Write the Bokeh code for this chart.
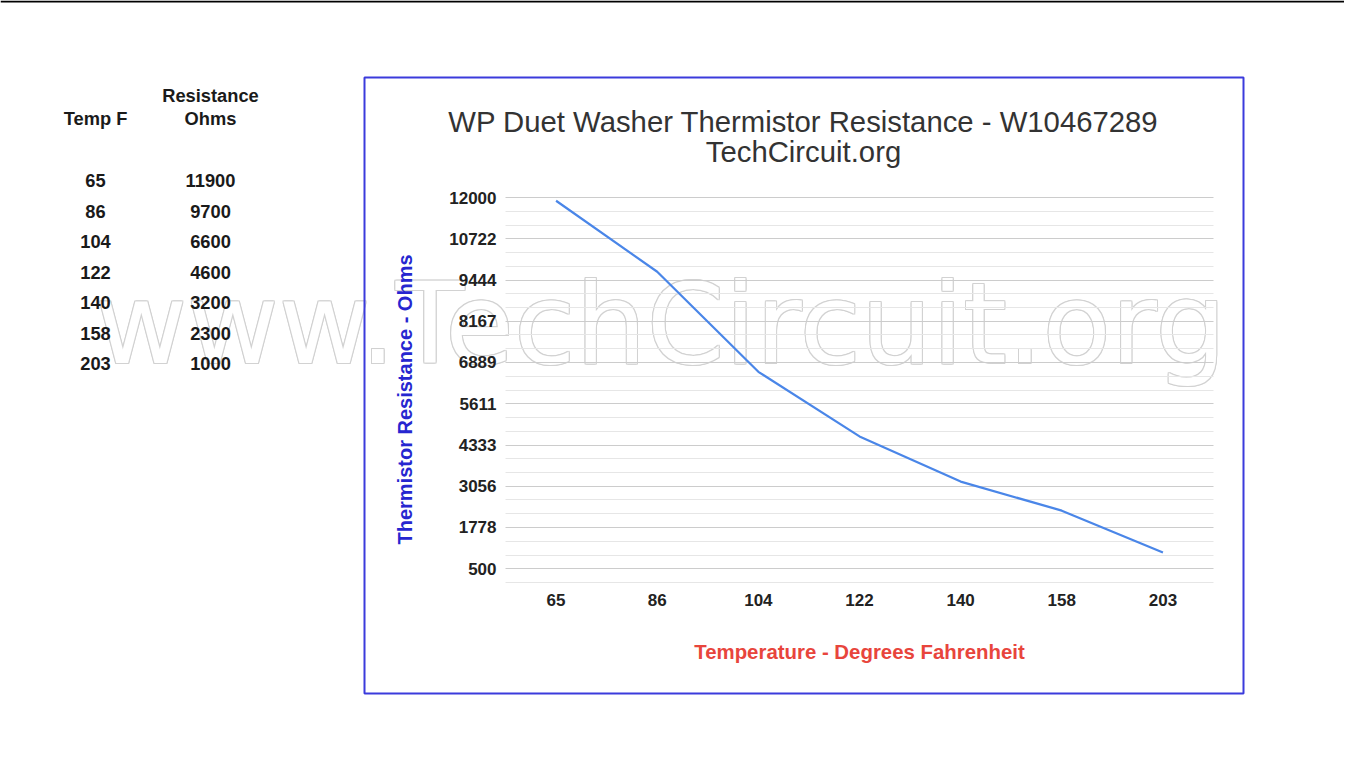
import numpy as np
from bokeh.plotting import figure
from bokeh.models import (FixedTicker, Range1d, ColumnDataSource, LinearAxis, Grid)
from bokeh.core.properties import value
from bokeh.embed import file_html
from bokeh.resources import INLINE

# ---------------- data ----------------
temps_f = [65, 86, 104, 122, 140, 158, 203]
resistance_ohms = [11900, 9700, 6600, 4600, 3200, 2300, 1000]
y_tick_values = [500, 1778, 3056, 4333, 5611, 6889, 8167, 9444, 10722, 12000]
title_lines = ["WP Duet Washer Thermistor Resistance - W10467289", "TechCircuit.org"]
table_header_temp = "Temp F"
table_header_res = ["Resistance", "Ohms"]
x_axis_title = "Temperature - Degrees Fahrenheit"
y_axis_title = "Thermistor Resistance - Ohms"
watermark = "www.TechCircuit.org"

# ---------------- layout (page pixels) ----------------
W, H = 1344, 752
PL, PR, PT, PB = 505, 1213, 197, 582      # plot area edges
FONT = "Liberation Sans"

n = len(temps_f)
cat_idx = list(range(n))
px_per_cat = (PR - PL) / n
x_lo = -0.5 - PL / px_per_cat
x_hi = -0.5 + (W - PL) / px_per_cat

step = (y_tick_values[-1] - y_tick_values[0]) / (len(y_tick_values) - 1)
y_bottom = y_tick_values[0] - step / 3
y_top = y_tick_values[-1]
k = (PB - PT) / (y_top - y_bottom)
y_hi = y_top + PT / k
y_lo = y_bottom - (H - PB) / k

minor = [y_bottom]
for a in y_tick_values[:-1]:
    minor += [a + step / 3, a + 2 * step / 3]

p = figure(width=W, height=H, output_backend="svg", toolbar_location=None,
           x_range=Range1d(x_lo, x_hi), y_range=Range1d(y_lo, y_hi),
           x_axis_type=None, y_axis_type=None, min_border=0)
p.outline_line_color = None
p.background_fill_color = "white"
p.border_fill_color = "white"
p.extra_x_ranges = {"px": Range1d(0, W)}
p.extra_y_ranges = {"py": Range1d(H, 0)}


def txt(texts, xs, ys, size, color, style="normal", align="center", baseline="middle",
        angle=0.0, font=FONT, alpha=1.0, level="glyph"):
    src = ColumnDataSource(dict(x=xs, y=ys, text=texts))
    r = p.text("x", "y", "text", source=src, x_range_name="px", y_range_name="py",
               text_font=value(font), text_font_size=value(f"{size}px"),
               text_font_style=style, text_color=color, text_align=align,
               text_baseline=baseline, angle=angle, text_alpha=alpha)
    r.level = level
    return r


# watermark (outlined look), drawn beneath everything
wm_size, wm_x, wm_y = 112, 95, 323
offs = [(-1, -1), (-1, 0), (-1, 1), (0, -1), (0, 1), (1, -1), (1, 0), (1, 1)]
txt([watermark] * len(offs), [wm_x + dx for dx, _ in offs], [wm_y + dy for _, dy in offs],
    wm_size, "#d2d2d2", align="left", baseline="alphabetic", font="DejaVu Sans", level="image")
txt([watermark], [wm_x], [wm_y], wm_size, "white", align="left", baseline="alphabetic",
    font="DejaVu Sans", level="image")

# screenshot top border line and chart box border
p.segment(x0=[0], y0=[1], x1=[W], y1=[1], x_range_name="px", y_range_name="py",
          line_color="black", line_width=2)
p.quad(left=[364], right=[1243], top=[77], bottom=[693], x_range_name="px",
       y_range_name="py", fill_alpha=0, line_color="#3b3bdc", line_width=2)

# grid
yticker = FixedTicker(ticks=y_tick_values, minor_ticks=minor)
grid_kw = dict(dimension=1, ticker=yticker, grid_line_color="#cccccc",
               minor_grid_line_color="#e6e6e6", level="underlay")
if "cross_bounds" in Grid.properties():
    p.add_layout(Grid(cross_bounds=(-0.5, n - 0.5), **grid_kw))
else:
    p.segment(x0=[-0.5] * len(y_tick_values), y0=y_tick_values, x1=[n - 0.5] * len(y_tick_values),
              y1=y_tick_values, line_color="#cccccc")
    p.segment(x0=[-0.5] * len(minor), y0=minor, x1=[n - 0.5] * len(minor), y1=minor,
              line_color="#e6e6e6")

# data line
src = ColumnDataSource(dict(x=cat_idx, y=resistance_ohms))
p.line("x", "y", source=src, line_color="#4a86e8", line_width=2.2)

# axes
yaxis = LinearAxis(ticker=yticker, fixed_location=-0.5,
                   major_label_overrides={v: str(v) for v in y_tick_values})
xaxis = LinearAxis(ticker=FixedTicker(ticks=cat_idx), fixed_location=y_bottom,
                   major_label_overrides={i: str(t) for i, t in zip(cat_idx, temps_f)})
for ax in (xaxis, yaxis):
    ax.axis_line_color = None
    ax.major_tick_line_color = None
    ax.minor_tick_line_color = None
    ax.major_tick_out = 0
    ax.minor_tick_out = 0
    ax.major_tick_in = 0
    ax.minor_tick_in = 0
    ax.major_label_text_font = FONT
    ax.major_label_text_font_style = "bold"
    ax.major_label_text_font_size = "17px"
    ax.major_label_text_color = "#222222"
yaxis.major_label_standoff = 9
xaxis.major_label_standoff = 11
p.add_layout(yaxis, "left")
p.add_layout(xaxis, "below")

# title
txt(title_lines, [803, 803], [121, 151], 29.3, "#333333")

# axis titles
txt([x_axis_title], [859], [651], 20.4, "#e8453c", style="bold")
txt([y_axis_title], [404], [399], 20, "#2626d0", style="bold", angle=np.pi / 2)

# side table
col_t, col_r = 95, 210
txt([table_header_temp, table_header_res[0], table_header_res[1]],
    [col_t, col_r, col_r], [118, 95, 118], 18.3, "#1a1a1a", style="bold")
rows_y = [180 + i * 30.5 for i in range(n)]
txt([str(t) for t in temps_f], [col_t] * n, rows_y, 18.3, "#1a1a1a", style="bold")
txt([str(r) for r in resistance_ohms], [col_r] * n, rows_y, 18.3, "#1a1a1a", style="bold")

open("out.html", "w").write(file_html(p, INLINE))
